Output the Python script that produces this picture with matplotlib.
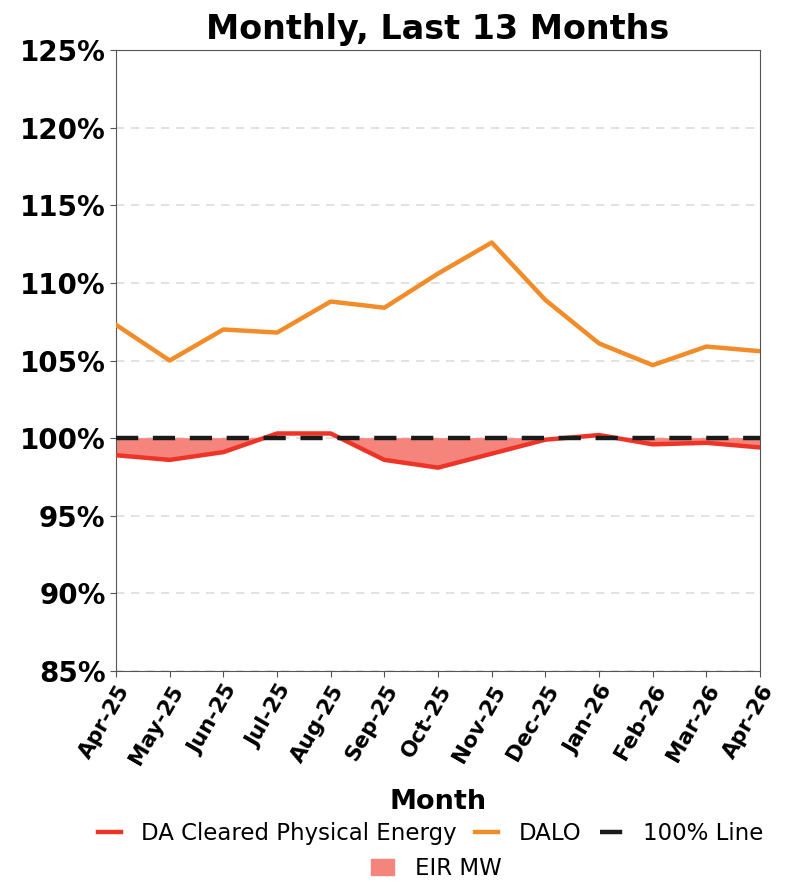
import matplotlib.pyplot as plt
import numpy as np

months = ["Apr-25", "May-25", "Jun-25", "Jul-25", "Aug-25", "Sep-25", "Oct-25",
          "Nov-25", "Dec-25", "Jan-26", "Feb-26", "Mar-26", "Apr-26"]
da_cleared = [98.9, 98.6, 99.1, 100.3, 100.3, 98.6, 98.1, 99.0, 99.9, 100.2, 99.6, 99.7, 99.4]
dalo = [107.3, 105.0, 107.0, 106.8, 108.8, 108.4, 110.6, 112.6, 108.9, 106.1, 104.7, 105.9, 105.6]
ref_line = [100.0] * len(months)

fig = plt.figure(figsize=(7.86, 8.82), dpi=100)
ax = fig.add_axes([0.1476, 0.2392, 0.8194, 0.7041])

x = np.arange(len(months))
da = np.array(da_cleared)
ref = np.array(ref_line)

ax.fill_between(x, da, ref, where=da < ref, interpolate=True,
                color='#f4847c', lw=0, label='EIR MW', zorder=2)
l1, = ax.plot(x, da, color='#ee3427', lw=3.2, label='DA Cleared Physical Energy', zorder=3)
l2, = ax.plot(x, dalo, color='#f28c28', lw=3.2, label='DALO', zorder=3)
l3, = ax.plot(x, ref, color='#1a1a1a', lw=3.2, ls=(0, (5, 3.3)), label='100% Line', zorder=4)

ax.set_xlim(0, len(months) - 1)
ax.set_ylim(85, 125)
ax.set_yticks(np.arange(85, 126, 5))
ax.set_yticklabels([f"{v}%" for v in range(85, 126, 5)], fontsize=20, fontweight='bold')
ax.set_xticks(x)
ax.set_xticklabels(months, rotation=60, ha='right', rotation_mode='anchor',
                   fontsize=15.5, fontweight='bold')
ax.tick_params(axis='both', color='#555555', length=4)
ax.yaxis.grid(True, ls=(0, (5, 4)), color='#dddddd', lw=1.2)
ax.set_axisbelow(True)
for s in ax.spines.values():
    s.set_color('#555555')

ax.set_title("Monthly, Last 13 Months", fontsize=24, fontweight='bold', pad=8)
ax.set_xlabel("Month", fontsize=19.5, fontweight='bold', labelpad=15)

handles = [l1, l2, l3]
fig.legend(handles=handles, labels=[h.get_label() for h in handles], ncol=3,
           loc='center', bbox_to_anchor=(0.548, 0.055), frameon=False, fontsize=16.5,
           handlelength=1.0, columnspacing=0.8, handletextpad=0.9)
fill_handle = plt.Rectangle((0, 0), 1, 1, color='#f4847c')
fig.legend(handles=[fill_handle], labels=['EIR MW'], loc='center',
           bbox_to_anchor=(0.555, 0.015), frameon=False, fontsize=16.5,
           handlelength=1.0, handletextpad=0.9)

fig.savefig('out.png', dpi=100)
